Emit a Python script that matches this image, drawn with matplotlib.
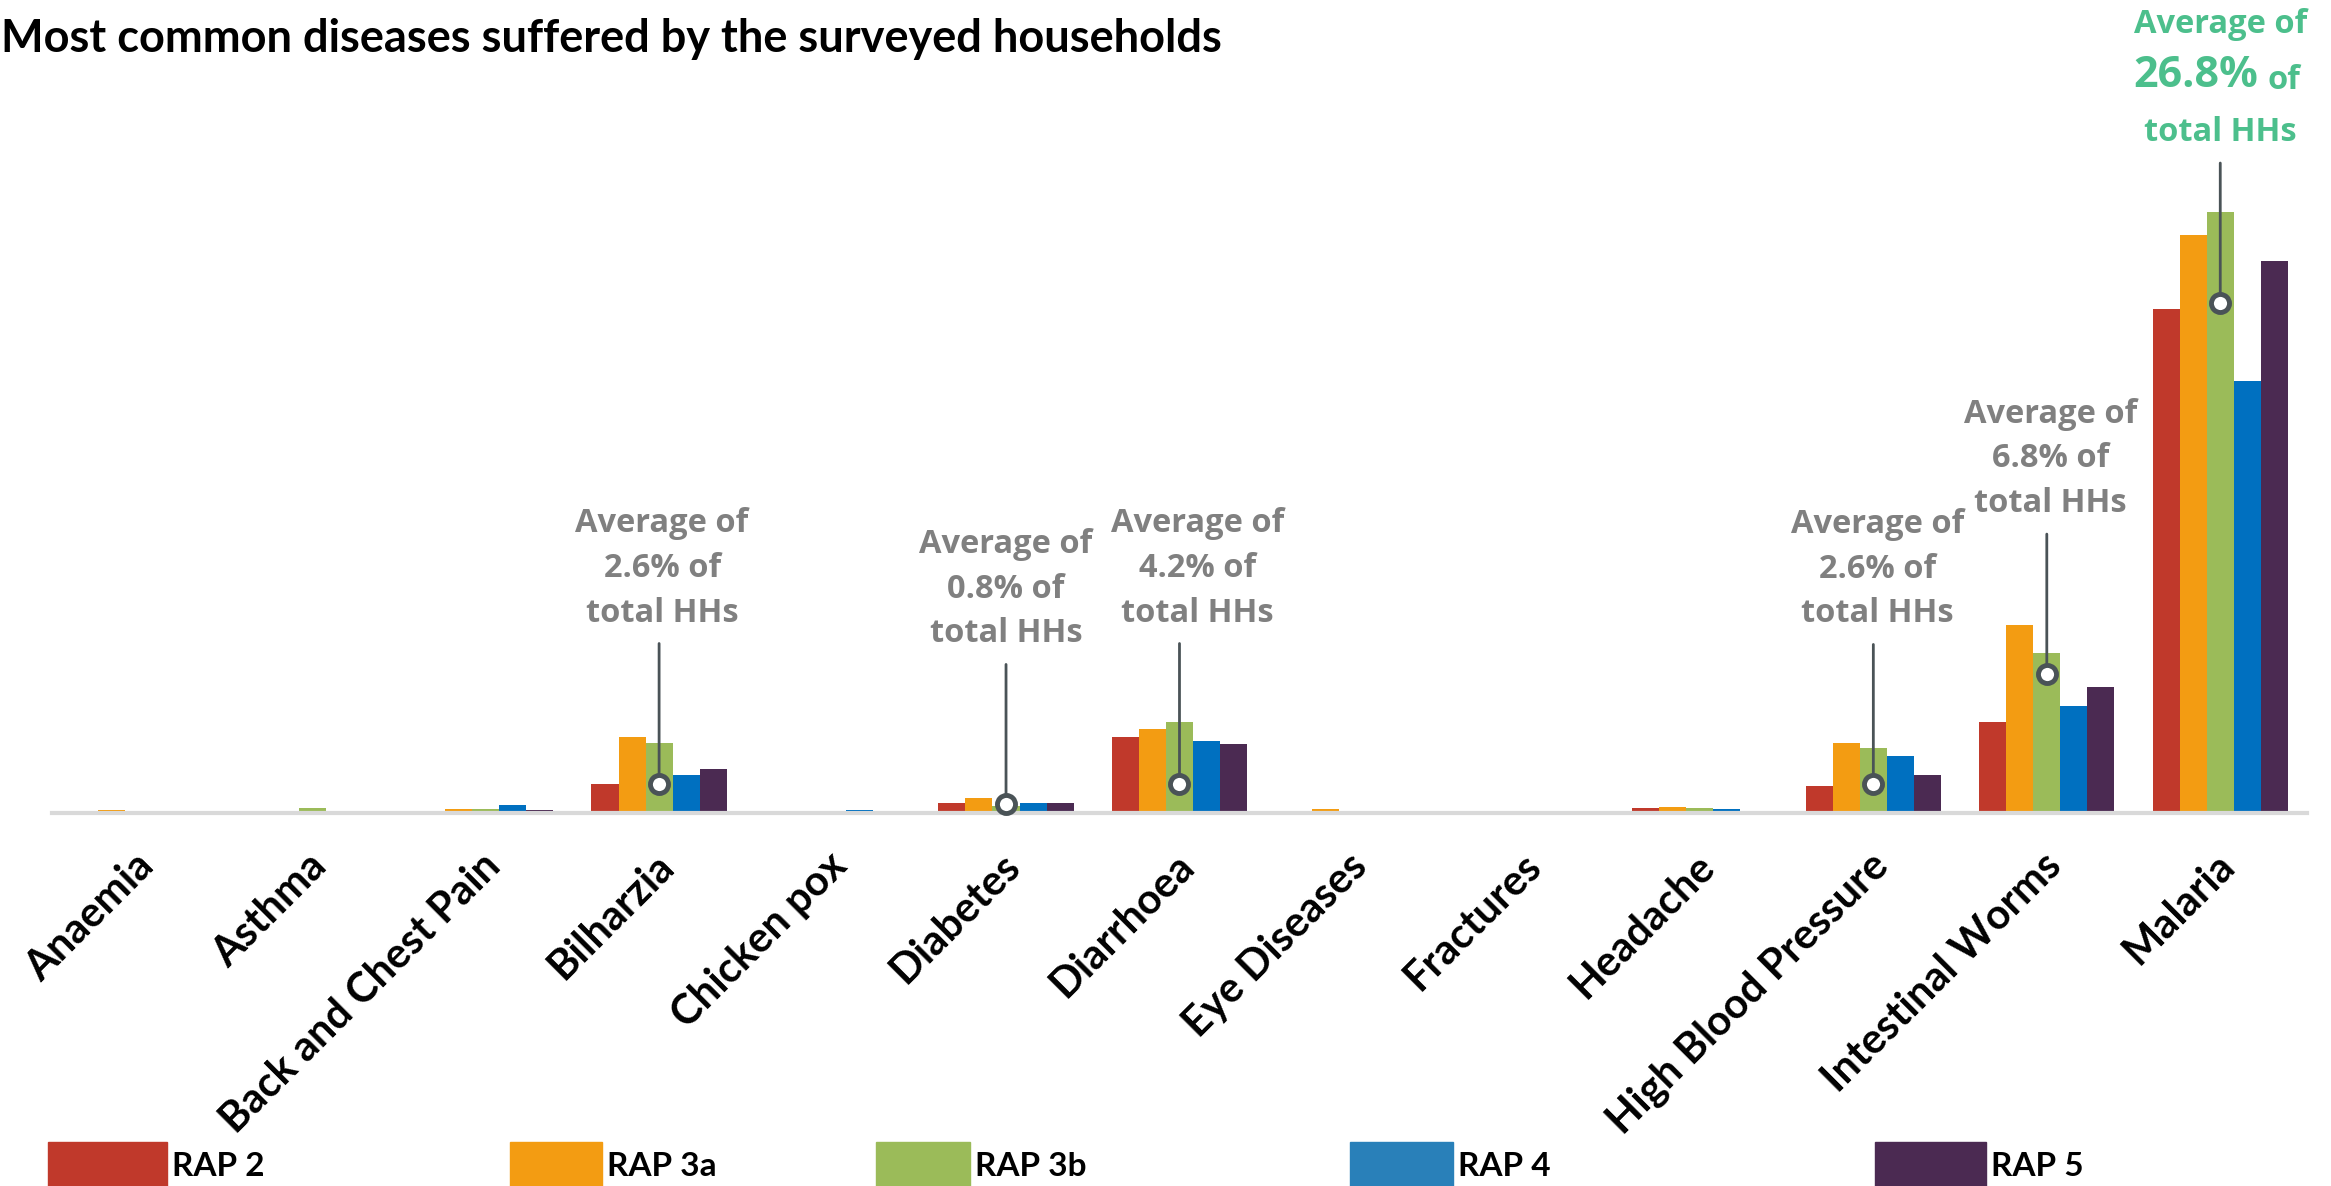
import matplotlib.pyplot as plt
from matplotlib.patches import Rectangle
from matplotlib.transforms import ScaledTranslation
import numpy as np

# Data (% of households per survey area)
diseases = ['Anaemia', 'Asthma', 'Back and Chest Pain', 'Bilharzia', 'Chicken pox',
            'Diabetes', 'Diarrhoea', 'Eye Diseases', 'Fractures', 'Headache',
            'High Blood Pressure', 'Intestinal Worms', 'Malaria']
series_names = ['RAP 2', 'RAP 3a', 'RAP 3b', 'RAP 4', 'RAP 5']
rap2 = [0.0, 0.0, 0.0, 1.5, 0.0, 0.5, 4.0, 0.0, 0.0, 0.25, 1.4, 4.8, 26.5]
rap3a = [0.15, 0.1, 0.2, 4.0, 0.0, 0.8, 4.4, 0.2, 0.0, 0.3, 3.7, 9.9, 30.4]
rap3b = [0.0, 0.25, 0.2, 3.7, 0.0, 0.35, 4.8, 0.0, 0.0, 0.25, 3.4, 8.4, 31.6]
rap4 = [0.0, 0.1, 0.4, 2.0, 0.15, 0.5, 3.8, 0.1, 0.0, 0.2, 3.0, 5.6, 22.7]
rap5 = [0.0, 0.0, 0.15, 2.3, 0.0, 0.5, 3.6, 0.05, 0.1, 0.1, 2.0, 6.6, 29.0]

# Callouts: category index, average label, marker height (%)
callout_idx = [3, 5, 6, 10, 11]
callout_avg = ['2.6%', '0.8%', '4.2%', '2.6%', '6.8%']
callout_y = [1.55, 0.45, 1.55, 1.5, 7.3]
callout_dx = [3, 0, 18, 4, 4]   # text shift in px
malaria_avg = '26.8%'
malaria_y = 26.8

colors = ['#C0392B', '#F39C12', '#9BBB59', '#0070C0', '#4B2A52']
legend_colors = ['#C0392B', '#F39C12', '#9BBB59', '#2980B9', '#4B2A52']
gray = '#808080'
dark = '#4A5357'
green_txt = '#4CBF8C'

fig = plt.figure(figsize=(23.31, 11.86), dpi=100)
ax = fig.add_axes([0.0223, 0.3145, 0.9674, 0.5776])

x = np.arange(len(diseases))
width = 0.156
for i, (vals, c) in enumerate(zip([rap2, rap3a, rap3b, rap4, rap5], colors)):
    ax.bar(x + (i - 2) * width, vals, width, color=c, zorder=2)

ax.set_xlim(-0.5, 12.5)
ax.set_ylim(0, 36)
for s in ['top', 'right', 'left']:
    ax.spines[s].set_visible(False)
ax.spines['bottom'].set_color('#D9D9D9')
ax.spines['bottom'].set_linewidth(3)
ax.set_yticks([])
ax.set_xticks(x)
ax.set_xticklabels(diseases, rotation=45, ha='right', va='top', rotation_mode='anchor',
                   fontsize=30, fontweight='bold', family='Lato')
ax.tick_params(axis='x', length=0, pad=24)
for lbl in ax.get_xticklabels():
    lbl.set_transform(lbl.get_transform() + ScaledTranslation(-0.05, 0, fig.dpi_scale_trans))

# offsets in points (dpi 100: 1px = 0.72pt)
px = 0.72
line_len = 140 * px
txt_off = 154 * px


def callout(xc, y):
    ax.annotate('', xy=(xc, y), xytext=(0, line_len), textcoords='offset points',
                arrowprops=dict(arrowstyle='-', color=dark, lw=2, shrinkA=0, shrinkB=0), zorder=4)
    ax.plot([xc], [y], marker='o', ms=13, mfc='white', mec=dark, mew=3.5, zorder=5, clip_on=False)


for idx, avg, y, dx in zip(callout_idx, callout_avg, callout_y, callout_dx):
    callout(idx, y)
    ax.annotate(f'Average of\n{avg} of\ntotal HHs', xy=(idx, y), xytext=(dx * px, txt_off),
                textcoords='offset points', ha='center', va='bottom', fontsize=23.5,
                fontweight='bold', family='Open Sans', color=gray, linespacing=1.47)

# Malaria callout, with the larger figure
callout(12, malaria_y)
kw = dict(xy=(12, malaria_y), textcoords='offset points', fontweight='bold',
          family='Open Sans', color=green_txt)
ax.annotate('total HHs', xytext=(0, txt_off), ha='center', va='bottom', fontsize=23.5, **kw)
ax.annotate(malaria_avg, xytext=(38 * px, txt_off + 52 * px), ha='right', va='bottom', fontsize=31, **kw)
ax.annotate('of', xytext=(47 * px, txt_off + 52 * px), ha='left', va='bottom', fontsize=23.5, **kw)
ax.annotate('Average of', xytext=(0, txt_off + 108 * px), ha='center', va='bottom', fontsize=23.5, **kw)

fig.text(0.0005, 0.985, 'Most common diseases suffered by the surveyed households', ha='left', va='top',
         fontsize=32.5, fontweight='bold', family='Lato')

# Legend
leg_x = [48, 510, 876, 1350, 1875]
leg_w = [119, 92, 94, 103, 111]
for lx, lw, c, name in zip(leg_x, leg_w, legend_colors, series_names):
    fig.add_artist(Rectangle((lx / 2331, 0), lw / 2331, 44 / 1186, transform=fig.transFigure,
                             color=c, clip_on=False))
    fig.text((lx + lw + 5) / 2331, 19 / 1186, name, ha='left', va='center', fontsize=24,
             fontweight='bold', family='Lato')

fig.savefig('out.png', dpi=100)
